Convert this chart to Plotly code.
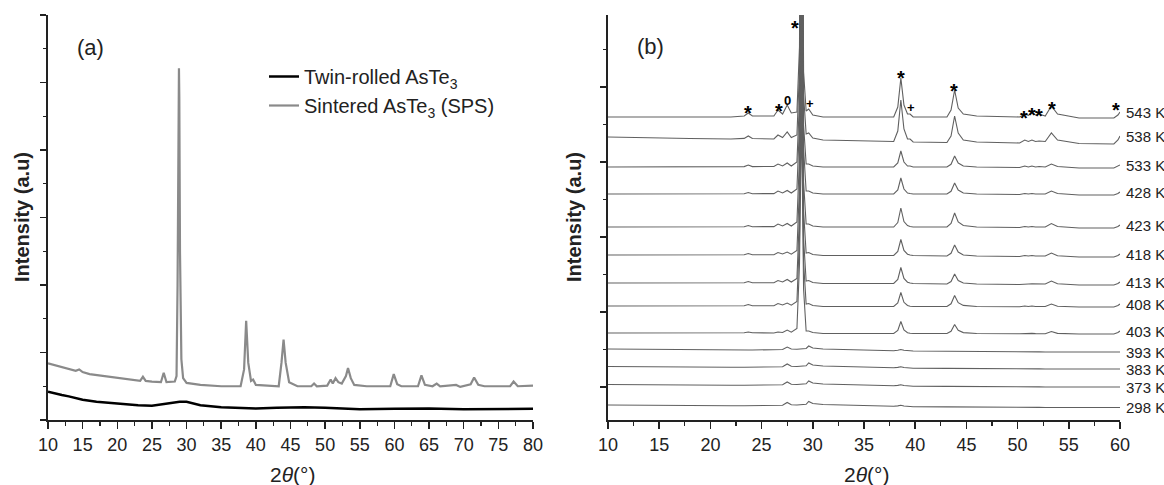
import plotly.graph_objects as go

FONT = "Arial, Liberation Sans, sans-serif"

# ---------------- Panel (a) data ----------------
twin_x = [10, 11, 12, 13, 15, 17, 20, 23, 25, 26.5, 28, 29, 30, 31, 32, 35, 38, 40, 43, 47, 50, 55, 60, 65, 70, 75, 80]
twin_y = [0.42, 0.39, 0.37, 0.35, 0.30, 0.27, 0.24, 0.22, 0.21, 0.23, 0.26, 0.27, 0.27, 0.25, 0.22, 0.19, 0.18, 0.17, 0.18, 0.19, 0.18, 0.16, 0.165, 0.17, 0.16, 0.165, 0.165]

sps_x = [10, 12, 14, 14.5, 15, 16, 18, 20, 22, 23.3, 23.7, 24.1, 25, 26.3, 26.7, 27.1, 28.3, 28.55, 28.7, 28.8, 28.85, 28.9, 28.95, 29.05, 29.25, 29.5, 30,
         32, 35, 37.8, 38.3, 38.6, 38.9, 39.3, 39.6, 40, 43.3, 43.7, 44.0, 44.3, 44.8, 46, 48, 48.4, 48.8, 50.3, 50.8, 51.1, 51.5, 51.9, 52.4,
         53.0, 53.3, 53.7, 54.2, 56, 59.4, 59.9, 60.4, 61, 63.4, 63.9, 64.4, 65.5, 66.1, 66.6, 68.9, 69.5, 71, 71.5, 72.1, 73, 76.7, 77.2, 77.8, 80]
sps_y = [0.84, 0.78, 0.73, 0.75, 0.71, 0.68, 0.65, 0.62, 0.59, 0.58, 0.64, 0.58, 0.57, 0.56, 0.70, 0.56, 0.57, 0.65, 2.0, 3.85, 4.79, 5.21, 4.79, 2.5, 0.9, 0.62, 0.55,
         0.52, 0.50, 0.50, 0.75, 1.47, 0.85, 0.58, 0.60, 0.52, 0.50, 0.85, 1.19, 0.85, 0.56, 0.50, 0.50, 0.54, 0.50, 0.51, 0.60, 0.54, 0.62, 0.56, 0.54,
         0.65, 0.77, 0.62, 0.52, 0.50, 0.50, 0.68, 0.53, 0.50, 0.50, 0.66, 0.52, 0.50, 0.54, 0.50, 0.52, 0.49, 0.53, 0.63, 0.52, 0.50, 0.50, 0.57, 0.50, 0.51]

# ---------------- Panel (b) data ----------------
xb = [10, 14, 18, 22, 23.3, 23.7, 24.1, 26.2, 26.6, 27.05, 27.5, 27.9, 28.45, 28.7, 28.9, 29.1, 29.35, 29.6, 30.0, 31, 34,
      37.9, 38.3, 38.6, 38.9, 39.25, 39.5, 39.8, 43.1, 43.5, 43.85, 44.2, 44.7, 46, 50.2, 50.7, 51.05, 51.4, 51.75, 52.1, 52.7,
      53.3, 53.9, 56, 59.4, 59.8, 60]

temps = ["543 K", "538 K", "533 K", "428 K", "423 K", "418 K", "413 K", "408 K", "403 K", "393 K", "383 K", "373 K", "298 K"]

y543 = [303, 303, 303, 303, 304, 307, 304, 304, 310, 306, 315, 307, 308, 373, 753, 348, 309, 311, 305, 303, 303,
        303, 313, 342, 315, 306, 306, 303, 303, 310, 330, 312, 306, 304, 303, 306, 304.5, 307, 305, 306, 304,
        314, 306, 302, 302, 305, 308]
y538 = [283, 282, 281.5, 281, 281.6, 284, 281.5, 281, 285, 282.5, 288, 282.5, 285, 350, 700, 325, 286, 287, 282, 280, 279.5,
        278.5, 289, 320, 291, 281, 281, 278, 277.5, 284, 304, 287, 280, 278, 277, 280, 278.5, 280, 278.5, 279, 278.5,
        287, 280, 276.5, 276, 280, 284]
y533 = [253, 253, 253, 253, 253.4, 255, 253.4, 253.5, 256, 254, 257, 254, 258, 320, 603, 295, 256, 256, 254, 253, 253,
        253, 257, 269, 258, 254, 254, 253, 253, 255.7, 264, 257, 254, 253, 252.5, 254, 253, 254, 253, 253.5, 253,
        256, 253.5, 252, 252, 253.5, 255]
y428 = [226, 226, 226, 226, 226.3, 227.5, 226.3, 226.4, 229, 227, 229.5, 227, 231, 296, 546, 271, 229, 229, 227, 226, 226,
        226, 230, 242, 231, 227, 226.5, 226, 226, 228.7, 237, 230, 227, 226, 225.5, 226.5, 226, 226.5, 226, 226, 226,
        229, 226.5, 225, 225, 226.5, 228]
y423 = [193, 193, 193, 193, 193.3, 194.5, 193.3, 193.4, 196, 194, 196.5, 194, 198, 263, 493, 238, 196, 196, 194, 193, 193,
        193, 197.5, 212, 198.5, 194.5, 193.5, 193, 193, 196.5, 207, 198, 194.5, 193, 192.5, 193.5, 193, 193.5, 193, 193, 193,
        196.5, 193.5, 192, 192, 193.5, 195]
y418 = [165, 165, 165, 165, 165.3, 166.5, 165.3, 165.3, 167.5, 166, 168, 165.8, 169.5, 234, 444, 209, 167, 167.5, 165.5, 164.5, 164.5,
        164.5, 168.5, 180.5, 169.5, 165.8, 165, 164.5, 164, 166.7, 175, 168, 165, 164, 163.5, 164.5, 164, 164.5, 164, 164, 164,
        167, 164.3, 163, 163, 164.5, 166]
y413 = [137, 137, 137, 137, 137.3, 138.5, 137.3, 137.3, 139.5, 138, 140.5, 138, 141.5, 206, 396, 181, 139, 139.5, 137.5, 136.5, 136.5,
        136.5, 140.5, 152.5, 141.5, 137.8, 137, 136.5, 136, 138.5, 146, 139.5, 137, 136, 135.5, 136.2, 136, 136.2, 136, 136, 136,
        139, 136.3, 135, 135, 136.5, 138]
y408 = [114, 114, 114, 114, 114.3, 115.5, 114.3, 114.3, 116.5, 115, 117, 114.8, 118.5, 183, 353, 158, 116, 116.5, 114.5, 113.5, 113.5,
        113.5, 117, 127.5, 117.7, 114.5, 113.8, 113.5, 113.5, 116.2, 124.5, 117.3, 114.6, 113.5, 113.2, 114, 113.5, 114, 113.5, 113.5, 113.5,
        116, 113.8, 113, 113, 114.5, 116]
y403 = [87, 87, 87, 87, 87.2, 88, 87.2, 87, 88, 87.5, 90, 87.8, 91.5, 156, 306, 131, 89, 89, 87.5, 86.5, 86.5,
        86.5, 89.5, 98.5, 90, 87.3, 86.7, 86.5, 86.5, 88.7, 95.5, 89.7, 87.4, 86.5, 86.2, 86.6, 86.4, 86.6, 86.4, 86.3, 86.3,
        88.5, 86.6, 86, 86, 87.5, 89]
y393 = [71, 70.5, 70, 70, 70, 70, 70, 70, 70.3, 70.5, 73, 71, 70.8, 70.8, 71, 71, 71.5, 74, 72, 71, 70,
        69.3, 69.8, 70.5, 69.7, 69.2, 69, 69, 68.7, 68.7, 68.8, 68.7, 68.6, 68.8, 68.3, 68.3, 68.2, 68.2, 68.2, 68.1, 68,
        68, 68, 68, 68, 68, 68]
y383 = [53.5, 53, 52.7, 52.7, 52.7, 52.7, 52.7, 52.7, 53, 53.2, 56, 53.7, 53.5, 53.5, 53.7, 53.8, 54.2, 57, 55, 54, 53,
        52.2, 52.6, 53.3, 52.5, 52, 51.8, 51.8, 51.6, 51.6, 51.7, 51.6, 51.5, 51.8, 51.3, 51.3, 51.2, 51.2, 51.2, 51.1, 51,
        51, 51, 51, 51, 51, 51]
y373 = [35.5, 35, 34.7, 34.7, 34.7, 34.7, 34.7, 34.7, 35, 35.2, 38, 35.7, 35.5, 35.5, 35.7, 35.8, 36.2, 39, 37, 36, 35,
        34.2, 34.6, 35.3, 34.5, 34, 33.8, 33.8, 33.6, 33.6, 33.7, 33.6, 33.5, 33.8, 33.3, 33.3, 33.2, 33.2, 33.2, 33.1, 33,
        33, 33, 33, 33, 33, 33]
y298 = [15, 14.5, 14.2, 14.2, 14.2, 14.2, 14.2, 14.2, 14.5, 14.7, 17.5, 15.2, 15, 15, 15.2, 15.3, 15.7, 18.5, 16.5, 15.5, 14.5,
        13.7, 14.1, 14.8, 14, 13.5, 13.3, 13.3, 13.1, 13.1, 13.2, 13.1, 13, 13.3, 12.8, 12.8, 12.7, 12.7, 12.7, 12.6, 12.5,
        12.5, 12.5, 12.5, 12.5, 12.5, 12.5]

series_b = [y543, y538, y533, y428, y423, y418, y413, y408, y403, y393, y383, y373, y298]

# peak markers: (2theta, intensity, symbol)
mark_x = [23.64, 26.67, 27.5, 28.26, 29.73, 38.58, 39.6, 43.76, 50.63, 51.37, 52.09, 53.36, 59.58]
mark_y = [312, 314, 320, 397, 317, 347, 313, 334, 307, 310, 309, 316, 315]
mark_s = ["*", "*", "0", "*", "+", "*", "+", "*", "*", "*", "*", "*", "*"]

# ---------------- geometry (page body margin removed via post_script) ----------------
W, H = 1164, 485
def px(p):
    return p / W
def py(p):
    return 1 - p / H

fig = go.Figure()

fig.add_trace(go.Scatter(x=twin_x, y=twin_y, mode="lines", name="Twin-rolled AsTe<sub>3</sub>",
                         line=dict(color="#000000", width=2.5), xaxis="x", yaxis="y"))
fig.add_trace(go.Scatter(x=sps_x, y=sps_y, mode="lines", name="Sintered AsTe<sub>3</sub> (SPS)",
                         line=dict(color="#8a8a8a", width=2.2), xaxis="x", yaxis="y"))

for name, ys in zip(temps, series_b):
    fig.add_trace(go.Scatter(x=xb, y=ys, mode="lines", name=name, showlegend=False,
                             line=dict(color="#606060", width=1.1), xaxis="x2", yaxis="y2"))

XA = [px(48), px(533)]
XB = [px(608), px(1120)]
YD = [py(420), py(15)]
AX = "#222222"
tickfont = dict(family=FONT, size=18, color=AX)

def xbottom(domain, rng, anchor):
    return dict(domain=domain, range=rng, anchor=anchor, tickmode="linear", tick0=10, dtick=5,
                ticks="outside", ticklen=7, tickwidth=1.5, tickcolor=AX, automargin=False,
                minor=dict(dtick=2.5, tick0=10, ticks="outside", ticklen=4, tickwidth=1.2, tickcolor=AX, showgrid=False),
                showline=True, linewidth=2, linecolor=AX, showgrid=False, zeroline=False, tickfont=tickfont)

def xtop(over, rng, anchor):
    return dict(overlaying=over, side="top", anchor=anchor, range=rng, tickmode="linear", tick0=10, dtick=5,
                ticks="inside", ticklen=6, tickwidth=1.5, tickcolor=AX, showticklabels=False, automargin=False,
                showline=True, linewidth=2, linecolor=AX, showgrid=False, zeroline=False)

layout = dict(
    width=W, height=H, autosize=False, margin=dict(l=0, r=0, t=0, b=0, pad=0),
    paper_bgcolor="white", plot_bgcolor="white", showlegend=True,
    xaxis=xbottom(XA, [10, 80], "y"),
    xaxis3=xtop("x", [10, 80], "y"),
    yaxis=dict(domain=YD, range=[0, 6], anchor="x", tickmode="linear", tick0=0, dtick=1, automargin=False,
               ticks="outside", ticklen=6, tickwidth=1.5, tickcolor=AX, showticklabels=False,
               minor=dict(dtick=0.5, tick0=0, ticks="outside", ticklen=3, tickwidth=1.2, tickcolor=AX),
               showline=True, linewidth=2, linecolor=AX, showgrid=False, zeroline=False),
    yaxis3=dict(overlaying="y", side="right", anchor="x", range=[0, 5], tickmode="linear", tick0=0, dtick=1, automargin=False,
                ticks="inside", ticklen=6, tickwidth=1.5, tickcolor=AX, showticklabels=False,
                minor=dict(dtick=0.5, tick0=0, ticks="inside", ticklen=3, tickwidth=1.2, tickcolor=AX),
                showline=True, linewidth=2, linecolor=AX, showgrid=False, zeroline=False),
    xaxis2=xbottom(XB, [10, 60], "y2"),
    xaxis4=xtop("x2", [10, 60], "y2"),
    yaxis2=dict(domain=YD, range=[0, 405], anchor="x2", tickmode="linear", tick0=33, dtick=75, automargin=False,
                ticks="outside", ticklen=6, tickwidth=1.5, tickcolor=AX, showticklabels=False,
                minor=dict(dtick=37.5, tick0=-4.5, ticks="outside", ticklen=3, tickwidth=1.2, tickcolor=AX),
                showline=True, linewidth=2, linecolor=AX, showgrid=False, zeroline=False),
    yaxis4=dict(overlaying="y2", side="right", anchor="x2", range=[0, 405], tickmode="linear", tick0=0, dtick=80.4, automargin=False,
                ticks="inside", ticklen=6, tickwidth=1.5, tickcolor=AX, showticklabels=False,
                minor=dict(dtick=40.2, tick0=0, ticks="inside", ticklen=3, tickwidth=1.2, tickcolor=AX),
                showline=True, linewidth=2, linecolor=AX, showgrid=False, zeroline=False),
    legend=dict(x=px(264), y=py(57), xanchor="left", yanchor="top", bgcolor="rgba(0,0,0,0)",
                font=dict(family=FONT, size=20, color=AX), tracegroupgap=0),
)
fig.update_layout(**layout)

def label(text, x, y, size, **kw):
    d = dict(text=text, x=px(x), y=py(y), xref="paper", yref="paper", xanchor="center", yanchor="middle",
             showarrow=False, font=dict(family=FONT, size=size, color=AX))
    d.update(kw)
    return d

ann = []
ann.append(label("<b>Intensity (a.u)</b>", 22, 217, 20, textangle=-90))
ann.append(label("<b>Intensity (a.u)</b>", 574, 217, 20, textangle=-90))
ann.append(label("2<i>θ</i>(°)", 292, 474, 21))
ann.append(label("2<i>θ</i>(°)", 866, 474, 21))
ann.append(label("(a)", 90, 48, 22))
ann.append(label("(b)", 650, 47, 22))
for name, ys in zip(temps, series_b):
    ann.append(dict(text=name, x=px(1124), xref="paper", y=ys[-1], yref="y2", xanchor="left", yanchor="middle",
                    showarrow=False, font=dict(family=FONT, size=15, color=AX)))
for mx, my, ms in zip(mark_x, mark_y, mark_s):
    star = ms == "*"
    ann.append(dict(text=("<b>*</b>" if star else "<b>" + ms + "</b>"), x=mx, y=my, xref="x2", yref="y2",
                    xanchor="center", yanchor="middle", showarrow=False, yshift=(-5 if star else 0),
                    font=dict(family=FONT, size=(20 if star else 13), color="#000000")))
fig.update_layout(annotations=ann)

fig.write_html(
    "out.html",
    config={"displayModeBar": False, "staticPlot": True},
    post_script="document.body.style.margin='0';document.body.style.overflow='hidden';"
                "document.documentElement.style.overflow='hidden';",
)
